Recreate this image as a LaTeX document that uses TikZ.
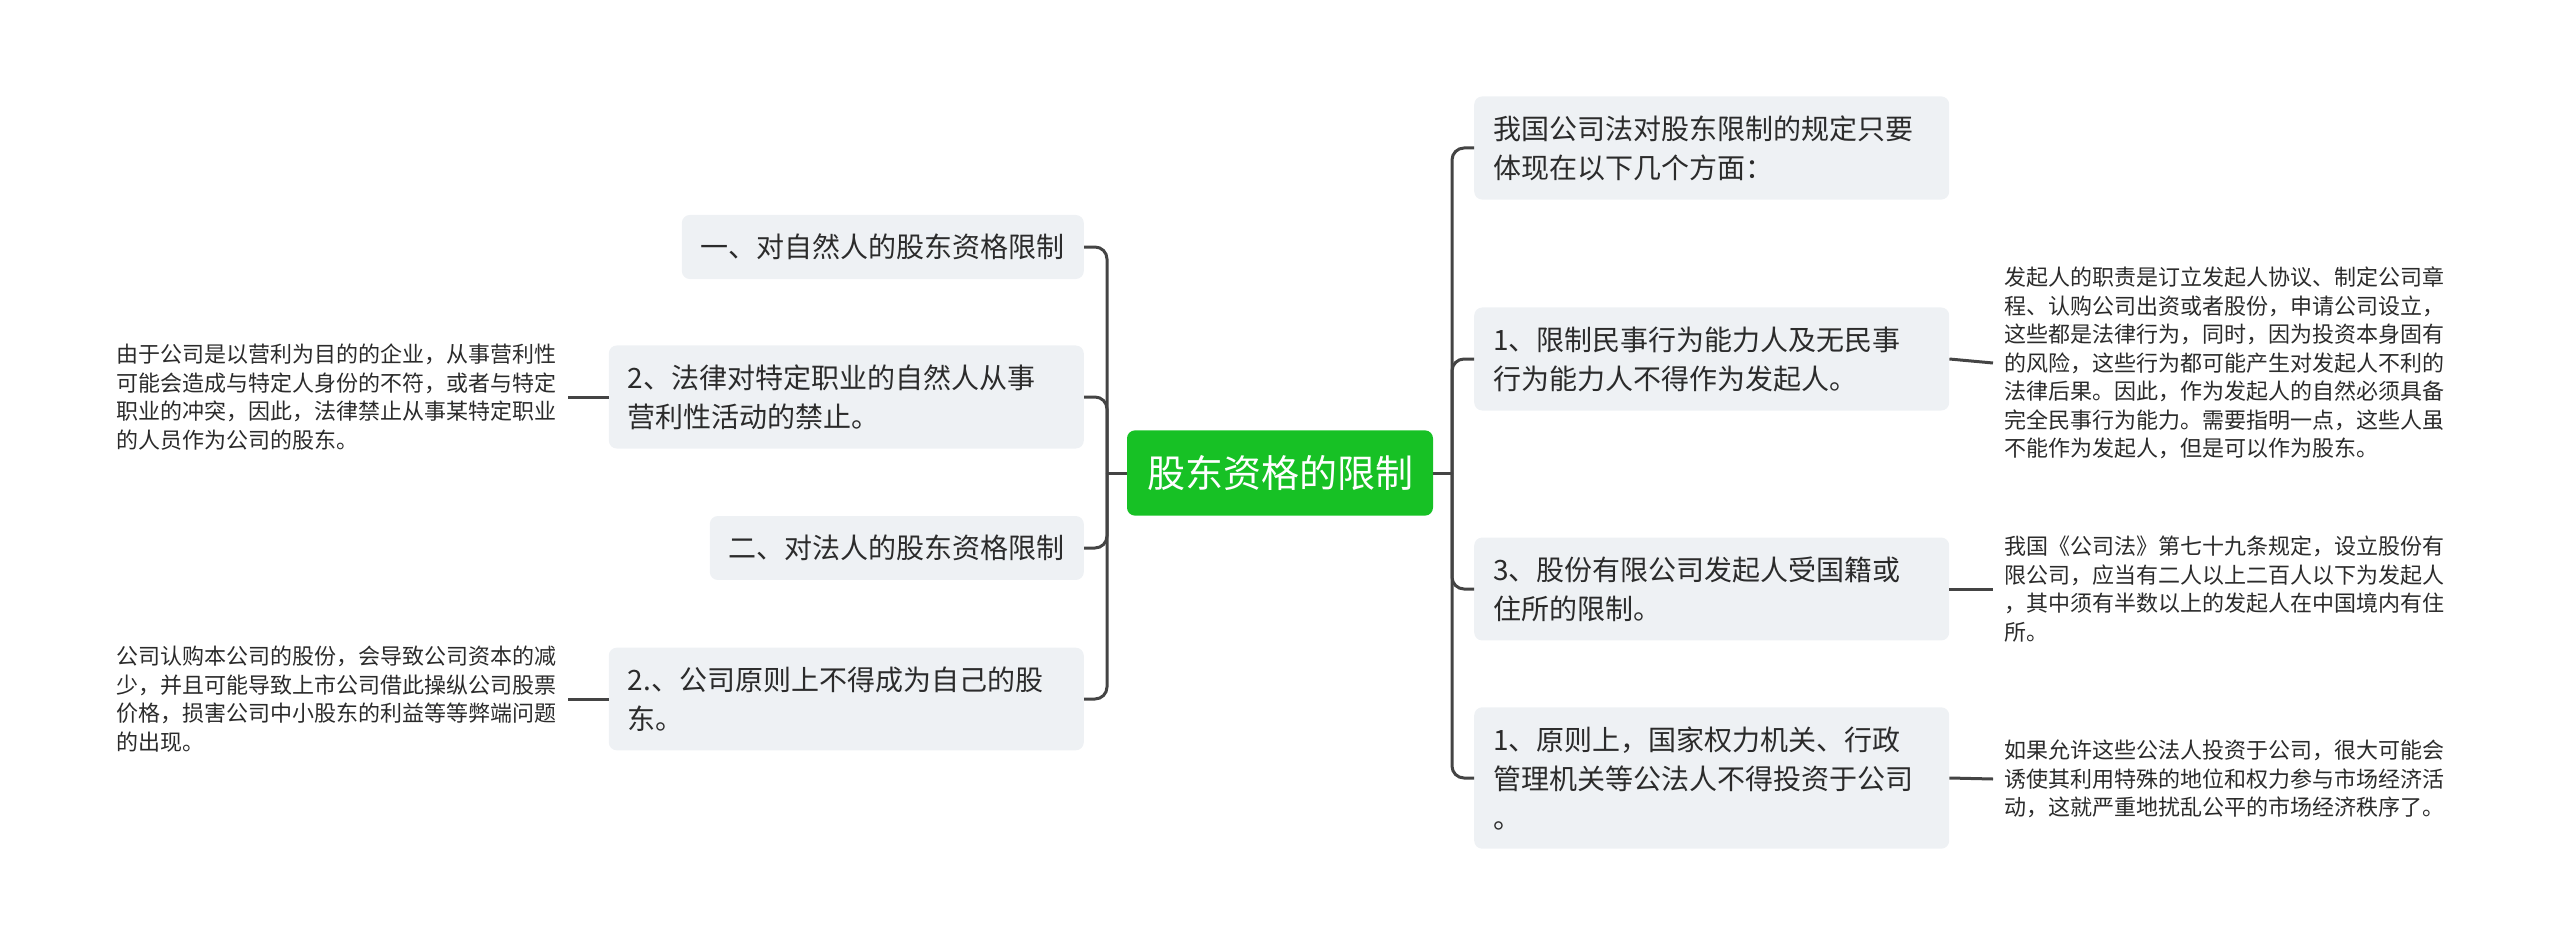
\documentclass[tikz,border=0pt]{standalone}
\usepackage{fontspec}
\usepackage{xcolor}
\usepackage{tikz}
\setmainfont{Noto Sans CJK SC}
\definecolor{ink}{HTML}{2B2B2B}
\definecolor{wire}{HTML}{444444}
\definecolor{boxsoft}{HTML}{EEF1F4}
\definecolor{rootgreen}{HTML}{17C125}

\begin{document}
\begin{tikzpicture}[x=1pt,y=-1pt,
  topic/.style={fill=boxsoft,rounded corners=8pt,inner xsep=19pt,inner ysep=19pt,align=left,text=ink,font=\fontsize{28}{39}\selectfont},
  wide/.style={topic,text width=437pt},
  note/.style={inner xsep=11pt,inner ysep=0pt,align=left,text=ink,font=\fontsize{22}{28.5}\selectfont},
  link/.style={draw=wire,line width=3pt,rounded corners=12pt}
]
  \useasboundingbox (0,0) rectangle (2560,947);
  \node[fill=rootgreen,rounded corners=8pt,inner xsep=20pt,inner ysep=25pt,text=white,font=\fontsize{38}{46}\selectfont] (root) at (1280,473) {股东资格的限制};
  \node[topic,anchor=east] (nat)  at (1084,247) {一、对自然人的股东资格限制};
  \node[wide,anchor=east]  (job)  at (1084,397) {2、法律对特定职业的自然人从事\\营利性活动的禁止。};
  \node[topic,anchor=east] (leg)  at (1084,548) {二、对法人的股东资格限制};
  \node[wide,anchor=east]  (self) at (1084,699) {2.、公司原则上不得成为自己的股\\东。};
  \node[wide,anchor=west]  (law)  at (1474,148) {我国公司法对股东限制的规定只要\\体现在以下几个方面：};
  \node[wide,anchor=west]  (cap)  at (1474,359) {1、限制民事行为能力人及无民事\\行为能力人不得作为发起人。};
  \node[wide,anchor=west]  (res)  at (1474,589) {3、股份有限公司发起人受国籍或\\住所的限制。};
  \node[wide,anchor=west]  (pub)  at (1474,778) {1、原则上，国家权力机关、行政\\管理机关等公法人不得投资于公司\\。};
  \node[note,anchor=east] (jobn) at (568,397) {由于公司是以营利为目的的企业，从事营利性\\可能会造成与特定人身份的不符，或者与特定\\职业的冲突，因此，法律禁止从事某特定职业\\的人员作为公司的股东。};
  \node[note,anchor=east] (selfn) at (568,699) {公司认购本公司的股份，会导致公司资本的减\\少，并且可能导致上市公司借此操纵公司股票\\价格，损害公司中小股东的利益等等弊端问题\\的出现。};
  \node[note,anchor=west] (capn) at (1993,363) {发起人的职责是订立发起人协议、制定公司章\\程、认购公司出资或者股份，申请公司设立，\\这些都是法律行为，同时，因为投资本身固有\\的风险，这些行为都可能产生对发起人不利的\\法律后果。因此，作为发起人的自然必须具备\\完全民事行为能力。需要指明一点，这些人虽\\不能作为发起人，但是可以作为股东。};
  \node[note,anchor=west] (resn) at (1993,589) {我国《公司法》第七十九条规定，设立股份有\\限公司，应当有二人以上二百人以下为发起人\\，其中须有半数以上的发起人在中国境内有住\\所。};
  \node[note,anchor=west] (pubn) at (1993,779) {如果允许这些公法人投资于公司，很大可能会\\诱使其利用特殊的地位和权力参与市场经济活\\动，这就严重地扰乱公平的市场经济秩序了。};
  \coordinate (lt) at (1107,473);
  \coordinate (rt) at (1452,473);
  \draw[link] (root.west) -- (lt);
  \draw[link] (root.east) -- (rt);
  \draw[link] (lt) |- (nat.east);
  \draw[link] (lt) |- (job.east);
  \draw[link] (lt) |- (leg.east);
  \draw[link] (lt) |- (self.east);
  \draw[link] (rt) |- (law.west);
  \draw[link] (rt) |- (cap.west);
  \draw[link] (rt) |- (res.west);
  \draw[link] (rt) |- (pub.west);
  \draw[link] (job.west) -- (jobn.east);
  \draw[link] (self.west) -- (selfn.east);
  \draw[link] (cap.east) -- (capn.west);
  \draw[link] (res.east) -- (resn.west);
  \draw[link] (pub.east) -- (pubn.west);
\end{tikzpicture}
\end{document}
